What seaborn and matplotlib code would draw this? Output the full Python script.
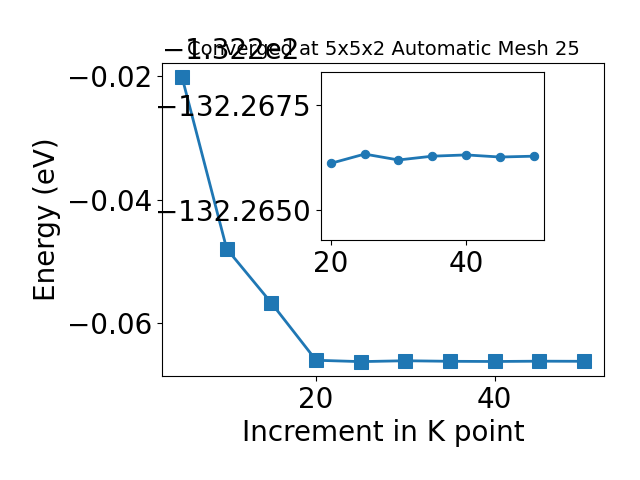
import numpy as np
import pandas as pd
import seaborn as sns
import matplotlib
matplotlib.use("Agg")
import matplotlib.pyplot as plt

# k-point convergence data
kpoints = [5, 10, 15, 20, 25, 30, 35, 40, 45, 50]
energy = [-132.2201, -132.2480, -132.2568, -132.26611, -132.26633,
          -132.26619, -132.26628, -132.26631, -132.26626, -132.26628]

# zoomed region (converged part)
k_zoom = kpoints[3:]
e_zoom = energy[3:]

df = pd.DataFrame({"k": kpoints, "E": energy})
df_zoom = pd.DataFrame({"k": k_zoom, "E": e_zoom})

plt.rcParams["font.size"] = 20
plt.rcParams["xtick.labelsize"] = 20
plt.rcParams["ytick.labelsize"] = 20

fig = plt.figure(figsize=(6.4, 4.8), dpi=100)
ax = fig.add_axes([0.253, 0.217, 0.691, 0.652])

sns.lineplot(data=df, x="k", y="E", marker="s", markersize=10, linewidth=2,
             markeredgecolor="#1f77b4", color="#1f77b4", ax=ax, errorbar=None)
ax.set_xlabel("Increment in K point")
ax.set_ylabel("Energy (eV)")
ax.set_title("Converged at 5x5x2 Automatic Mesh 25", fontsize=14, y=1.0)
ax.set_xticks([20, 40])
ax.set_yticks([-132.22, -132.24, -132.26])
ax.yaxis.get_major_formatter().set_useOffset(-132.2)

ins = fig.add_axes([0.501, 0.5, 0.349, 0.351])
sns.lineplot(data=df_zoom, x="k", y="E", marker="o", markersize=6, linewidth=2,
             markeredgecolor="#1f77b4", color="#1f77b4", ax=ins, errorbar=None)
ins.set_xlabel("")
ins.set_ylabel("")
ins.set_ylim(-132.26429, -132.26829)
ins.set_yticks([-132.2675, -132.2650])
ins.set_xticks([20, 40])
ins.ticklabel_format(axis="y", useOffset=False)

fig.savefig("out.png", dpi=100)
